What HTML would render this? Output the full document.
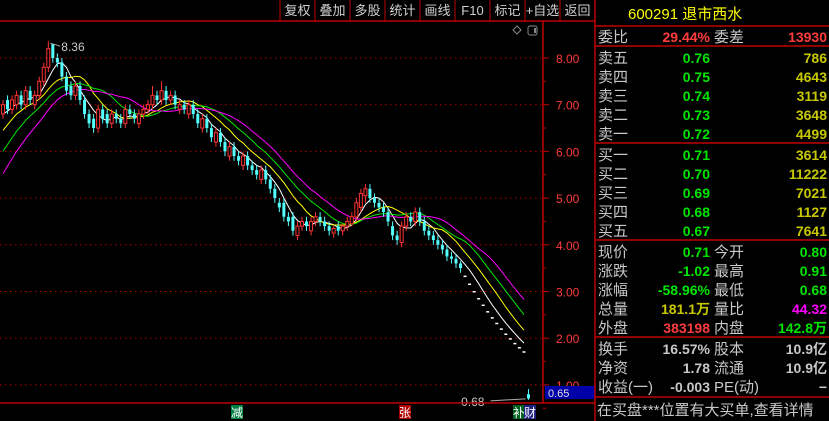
<!DOCTYPE html>
<html><head><meta charset="utf-8">
<style>
html,body{margin:0;padding:0;background:#000;width:829px;height:421px;overflow:hidden}
svg{display:block}
text{font-family:"Liberation Sans","Noto Sans CJK SC",sans-serif}
</style></head><body>
<svg id="chart" width="829" height="421" viewBox="0 0 829 421" xmlns="http://www.w3.org/2000/svg">
<rect width="829" height="421" fill="#000"/>
<g id="toolbar"></g>
<g id="grid"></g>
<g id="mas"></g>
<g id="candles"></g>
<g id="axis"></g>
<g id="panel"></g>
</svg>
<script>
const closes=[7.0,6.9,7.1,7.2,7.0,7.3,7.1,7.2,7.5,7.8,8.2,8.0,7.9,7.6,7.3,7.2,7.4,7.1,6.8,6.6,6.5,6.9,6.7,6.6,6.8,6.7,6.6,6.9,6.8,6.7,6.8,6.9,7.0,7.2,7.1,7.3,7.1,7.2,7.0,7.0,6.9,7.0,6.8,6.6,6.7,6.5,6.3,6.4,6.2,6.0,6.1,5.9,5.8,5.9,5.7,5.6,5.5,5.6,5.4,5.2,5.0,4.8,4.6,4.5,4.3,4.4,4.5,4.4,4.5,4.6,4.5,4.4,4.3,4.35,4.3,4.4,4.5,4.6,4.9,5.1,5.2,5.0,4.9,4.8,4.7,4.5,4.2,4.1,4.4,4.6,4.5,4.7,4.5,4.3,4.2,4.1,4.0,3.9,3.75,3.7,3.6,3.5,3.33,3.16,3.0,2.85,2.71,2.57,2.44,2.32,2.2,2.09,1.99,1.89,1.8,1.71,0.71];
const opens=[6.8,7.1,6.9,7.0,7.2,7.0,7.3,7.0,7.2,7.5,7.8,8.3,8.0,7.9,7.6,7.4,7.2,7.4,7.1,6.8,6.7,6.5,6.9,6.8,6.6,6.8,6.7,6.6,6.9,6.8,6.6,6.8,6.9,7.0,7.2,7.1,7.3,7.1,7.2,6.9,7.0,6.8,7.0,6.8,6.5,6.7,6.5,6.2,6.4,6.2,5.9,6.1,5.9,5.7,5.9,5.7,5.6,5.4,5.6,5.4,5.2,4.9,4.9,4.6,4.6,4.2,4.4,4.5,4.3,4.5,4.6,4.5,4.4,4.25,4.4,4.3,4.4,4.45,4.6,4.8,5.05,5.2,5.0,4.9,4.8,4.7,4.4,4.2,4.05,4.4,4.6,4.5,4.7,4.5,4.3,4.2,4.1,4.0,3.9,3.75,3.7,3.6,3.33,3.16,3.0,2.85,2.71,2.57,2.44,2.32,2.2,2.09,1.99,1.89,1.8,1.71,0.80];
const highs=[7.1,7.2,7.2,7.3,7.3,7.4,7.4,7.3,7.6,7.9,8.36,8.2,8.1,8.0,7.7,7.5,7.5,7.5,7.2,6.9,6.8,7.0,7.0,6.9,6.9,6.9,6.8,7.0,7.0,6.9,6.9,7.0,7.1,7.4,7.3,7.5,7.4,7.3,7.3,7.1,7.1,7.1,7.1,6.9,6.8,6.8,6.6,6.5,6.5,6.3,6.2,6.2,6.0,6.0,6.0,5.8,5.7,5.7,5.7,5.5,5.3,5.0,5.0,4.7,4.7,4.5,4.6,4.6,4.6,4.7,4.7,4.6,4.5,4.4,4.5,4.45,4.6,4.7,5.0,5.2,5.3,5.3,5.1,5.0,4.9,4.8,4.5,4.3,4.5,4.7,4.7,4.8,4.8,4.6,4.4,4.3,4.2,4.1,4.0,3.85,3.8,3.65,3.33,3.16,3.0,2.85,2.71,2.57,2.44,2.32,2.2,2.09,1.99,1.89,1.8,1.71,0.91];
const lows=[6.7,6.8,6.8,6.9,6.9,6.9,7.0,6.9,7.1,7.4,7.7,7.9,7.8,7.5,7.2,7.1,7.1,7.0,6.7,6.5,6.4,6.4,6.6,6.5,6.5,6.6,6.5,6.5,6.7,6.6,6.5,6.7,6.8,6.9,7.0,7.0,7.0,7.0,6.9,6.8,6.8,6.7,6.7,6.5,6.4,6.4,6.2,6.1,6.1,5.9,5.8,5.8,5.7,5.6,5.6,5.5,5.4,5.3,5.3,5.1,4.9,4.7,4.5,4.4,4.2,4.1,4.3,4.3,4.2,4.4,4.4,4.3,4.2,4.15,4.2,4.2,4.3,4.4,4.5,4.7,4.9,4.9,4.8,4.7,4.6,4.4,4.1,4.0,3.95,4.3,4.4,4.4,4.4,4.2,4.1,4.0,3.9,3.8,3.65,3.6,3.5,3.4,3.33,3.16,3.0,2.85,2.71,2.57,2.44,2.32,2.2,2.09,1.99,1.89,1.8,1.71,0.68];
const priorCloses=[3.0,3.0,3.0,3.0,3.0,3.0,3.0,3.0,3.0,3.0,3.5,3.7,3.9,4.1,4.3,4.5,4.7,4.9,5.1,5.3,5.5,5.7,5.9,6.1,6.3,6.5,6.6,6.7,6.8,6.9];
const priceTicks=[8,7,6,5,4,3,2,1];
const maPeriods=[5,10,15,20];
const maColors=["#ffffff","#ffff00","#00e600","#ff00ff"];
const toolbarLabels=["复权","叠加","多股","统计","画线","F10","标记","+自选","返回"];

const NS="http://www.w3.org/2000/svg";
function mk(tag,attrs,parent,txt){const e=document.createElementNS(NS,tag);for(const k in attrs)e.setAttribute(k,attrs[k]);if(txt!==undefined)e.textContent=txt;parent.appendChild(e);return e;}
const yP=p=>58+(8-p)*46.7;
const xI=i=>3+i*4.53;

const tb=document.getElementById('toolbar');
mk('line',{x1:0,y1:21,x2:595,y2:21,stroke:'#c00000','stroke-width':1.5},tb);
toolbarLabels.forEach((t,i)=>{
  const x0=280+i*35;
  const s=mk('line',{x1:x0,y1:0,x2:x0,y2:21,stroke:'#c00000'},tb);
  
  
  const b=mk('text',{x:x0+17.5,y:15,fill:'#d0d0d0','font-size':13,'text-anchor':'middle'},tb,t);
  
  
});

const gr=document.getElementById('grid'), ax=document.getElementById('axis');
priceTicks.forEach(p=>{
  const y=yP(p);
  const l=mk('line',{x1:0,y1:y,x2:543,y2:y,stroke:'#b00000','stroke-dasharray':'1.5,3.5'},gr);
  
  
  mk('line',{x1:543,y1:y,x2:549,y2:y,stroke:'#c00000'},ax);
  mk('line',{x1:543,y1:y+23.35,x2:546,y2:y+23.35,stroke:'#c00000'},ax);
  const t=mk('text',{x:556,y:y+5,fill:'#ff3c3c','font-size':12},ax,p.toFixed(2));
  
  
});
mk('line',{x1:543,y1:21,x2:543,y2:403,stroke:'#c00000','stroke-width':1.5},ax);
mk('line',{x1:0,y1:403,x2:595,y2:403,stroke:'#c00000','stroke-width':1.5},ax);
mk('path',{d:'M517 26 l4 4 -4 4 -4 -4z',fill:'none',stroke:'#888'},ax);
mk('rect',{x:528,y:26,width:9,height:9,rx:2,fill:'none',stroke:'#888'},ax);
mk('rect',{x:534,y:28,width:2,height:5,fill:'#888'},ax);
const pb=mk('rect',{x:545,y:386,width:50,height:13,fill:'#0000a8'},ax);


mk('text',{x:548,y:397,fill:'#e0e0e0','font-size':11},ax,'0.65');

const mg=document.getElementById('mas');
const all=priorCloses.concat(closes.slice(0,closes.length-1));
maPeriods.forEach((n,k)=>{
  let pts=[];
  for(let i=0;i<closes.length-1;i++){
    const j=i+priorCloses.length;let s=0;
    for(let q=j-n+1;q<=j;q++)s+=all[q];
    pts.push(xI(i).toFixed(1)+','+yP(s/n).toFixed(1));
  }
  const pl=mk('polyline',{points:pts.join(' '),fill:'none',stroke:maColors[k],'stroke-width':1},mg);
  
  
});

const cg=document.getElementById('candles');
closes.forEach((c,i)=>{
  const o=opens[i],h=highs[i],l=lows[i],x=xI(i);
  const g=mk('g',{},cg);
  
  
  if(h===l){mk('rect',{x:x-1.5,y:yP(c)-0.5,width:3,height:1.5,fill:'#ffffff'},g);return;}
  const up=c>=o, col=up?'#ff3232':'#54ffff';
  const top=yP(Math.max(o,c)), bot=yP(Math.min(o,c));
  mk('line',{x1:x,y1:yP(h),x2:x,y2:top,stroke:col},g);
  mk('line',{x1:x,y1:bot,x2:x,y2:yP(l),stroke:col},g);
  mk('rect',{x:x-1.5,y:top,width:3,height:Math.max(1,bot-top),fill:up?'#000':col,stroke:up?col:'none','stroke-width':1},g);
});
let hi=0;highs.forEach((v,i)=>{if(v>highs[hi])hi=i;});
let lo=0;lows.forEach((v,i)=>{if(v<lows[lo])lo=i;});
mk('line',{x1:xI(hi)+2,y1:yP(highs[hi])+2,x2:xI(hi)+12,y2:yP(highs[hi])+5,stroke:'#aaa'},cg);
const hl=mk('text',{x:xI(hi)+13,y:yP(highs[hi])+10,fill:'#c8c8c8','font-size':12},cg,highs[hi].toFixed(2));


mk('line',{x1:xI(lo)-38,y1:yP(lows[lo])+1,x2:xI(lo)-3,y2:yP(lows[lo])-1,stroke:'#aaa'},cg);
const ll=mk('text',{x:xI(lo)-44,y:yP(lows[lo])+6,fill:'#c8c8c8','font-size':12,'text-anchor':'end'},cg,lows[lo].toFixed(2));



[[231,'减','#008040'],[399,'张','#b00000'],[513,'补','#006020'],[524,'财','#202080']].forEach(m=>{
  mk('rect',{x:m[0],y:405,width:12,height:14,fill:m[2]},ax);
  const t=mk('text',{x:m[0]+6,y:417,fill:'#fff','font-size':12,'text-anchor':'middle'},ax,m[1]);
  
  
});

const pn=document.getElementById('panel');
mk('line',{x1:595,y1:0,x2:595,y2:421,stroke:'#c00000','stroke-width':1.5},pn);
mk('text',{x:628,y:19,fill:'#ffff00','font-size':15},pn,'600291 退市西水');
[26,46,143,240,337,397].forEach(y=>mk('line',{x1:595,y1:y,x2:829,y2:y,stroke:'#c00000','stroke-width':1.5},pn));
const G='#00e600',Y='#c8c800',R='#ff3c3c',W='#c8c8c8',M='#ff00ff';
const rows=[
 [42,'委比','29.44%',R,'委差','13930',R],
 [63,'卖五','0.76',G,'','786',Y],[82,'卖四','0.75',G,'','4643',Y],[101,'卖三','0.74',G,'','3119',Y],[120,'卖二','0.73',G,'','3648',Y],[139,'卖一','0.72',G,'','4499',Y],
 [160,'买一','0.71',G,'','3614',Y],[179,'买二','0.70',G,'','11222',Y],[198,'买三','0.69',G,'','7021',Y],[217,'买四','0.68',G,'','1127',Y],[236,'买五','0.67',G,'','7641',Y],
 [257,'现价','0.71',G,'今开','0.80',G],[276,'涨跌','-1.02',G,'最高','0.91',G],[295,'涨幅','-58.96%',G,'最低','0.68',G],[314,'总量','181.1万',Y,'量比','44.32',M],[333,'外盘','383198',R,'内盘','142.8万',G],
 [354,'换手','16.57%',W,'股本','10.9亿',W],[373,'净资','1.78',W,'流通','10.9亿',W],[392,'收益(一)','-0.003',W,'PE(动)','−',W]
];
rows.forEach(r=>{
  const g=mk('g',{},pn);
  
  
  mk('text',{x:598,y:r[0],fill:W,'font-size':15},g,r[1]);
  mk('text',{x:710,y:r[0],fill:r[3],'font-size':14,'text-anchor':'end','font-weight':'bold'},g,r[2]);
  if(r[4])mk('text',{x:714,y:r[0],fill:W,'font-size':15},g,r[4]);
  mk('text',{x:827,y:r[0],fill:r[6],'font-size':14,'text-anchor':'end','font-weight':'bold'},g,r[5]);
});
const msg=mk('text',{x:597,y:415,fill:W,'font-size':15},pn,'在买盘***位置有大买单,查看详情');


</script>
</body></html>
